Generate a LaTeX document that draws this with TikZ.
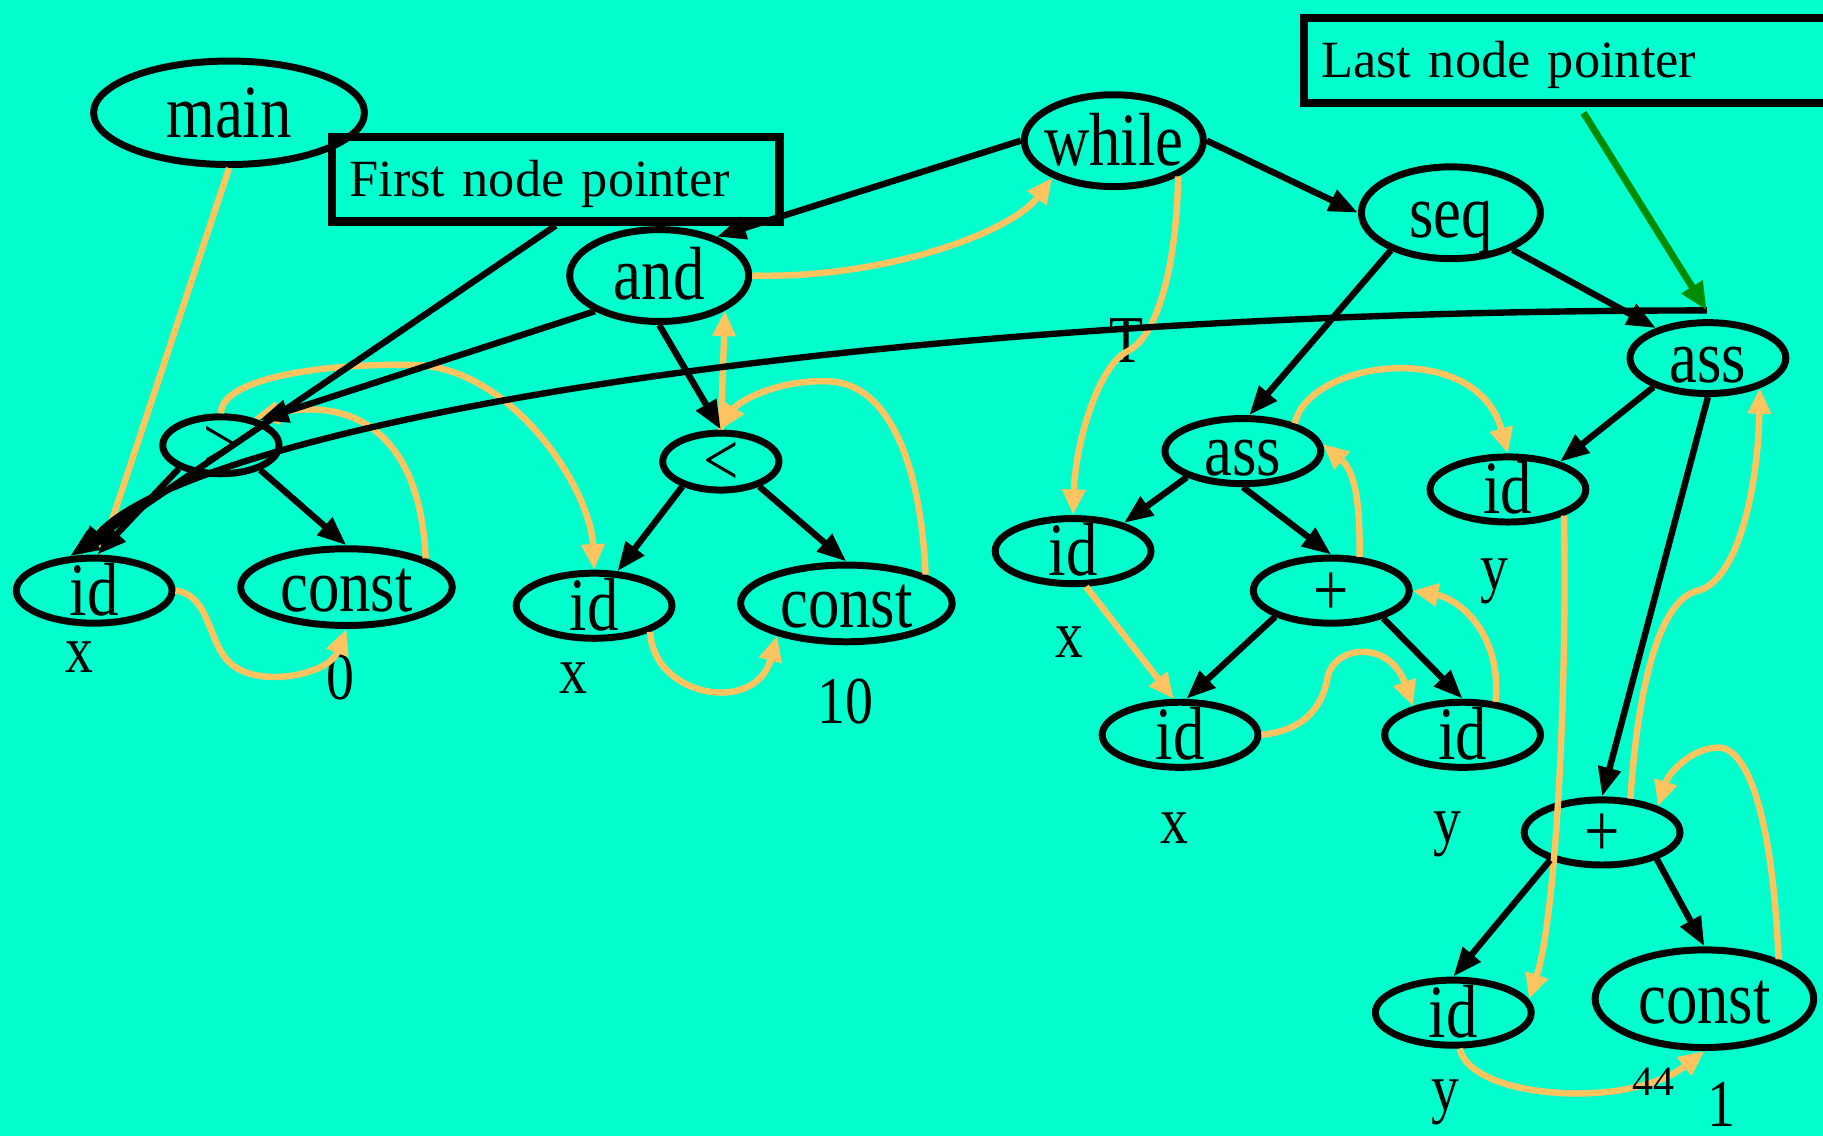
\documentclass[tikz,border=0pt]{standalone}
\usepackage{fontspec}
\setmainfont{Liberation Serif}
\usepackage{graphicx}
\usetikzlibrary{shapes,arrows,positioning,calc,arrows.meta}

\definecolor{bgc}{RGB}{0,255,204}
\definecolor{threadc}{RGB}{255,196,96}
\definecolor{ptrgreen}{RGB}{0,140,0}

\newcommand{\treefont}{\fontsize{54}{60}\selectfont}
\newcommand{\leaffont}{\fontsize{48}{54}\selectfont}
\newcommand{\ptrfont}{\fontsize{45}{50}\selectfont}
\newcommand{\nodetext}[1]{\raisebox{-21pt}[0pt][0pt]{\makebox[0pt]{\scalebox{1}[1.2]{#1}}}}
\newcommand{\leaftext}[1]{\scalebox{1}[1.2]{#1}}

\tikzset{
    tnode/.style={ellipse, draw, line width=6pt, inner sep=0pt, font=\treefont},
    leafn/.style={tnode, minimum width=134pt, minimum height=56pt},
    opn/.style={tnode, minimum width=100pt, minimum height=49pt},
    stmt/.style={tnode, minimum width=154pt, minimum height=79pt},
    cstn/.style={tnode, minimum width=182pt, minimum height=66pt},
    ptrbox/.style={draw, line width=7pt, anchor=north west, align=left, font=\ptrfont,
        inner xsep=15pt, inner ysep=0pt, minimum height=73pt, text height=30pt, text depth=0pt},
    lbl/.style={font=\leaffont, inner sep=0pt},
    tree/.style={line width=5.5pt, -{Triangle[length=25pt,width=19pt]}},
    thr/.style={draw=threadc, line width=5.5pt, -{Triangle[length=22pt,width=19pt]}},
    ptr/.style={draw=ptrgreen, line width=6pt, -{Triangle[length=24pt,width=20pt]}},
}

\begin{document}
\begin{tikzpicture}[x=1pt, y=-1pt]
    \useasboundingbox (0,0) rectangle (1568,977);
    \fill[bgc] (0,0) rectangle (1568,977);

    % tree nodes
    \node[tnode, minimum width=233pt, minimum height=89pt] (main) at (197,97) {\nodetext{main}};
    \node[stmt] (while) at (958,121) {\nodetext{while}};
    \node[stmt] (and) at (567,237) {\nodetext{and}};
    \node[stmt] (seq) at (1248,183) {\nodetext{seq}};
    \node[leafn, minimum height=61pt] (assr) at (1469,308) {\nodetext{ass}};
    \node[opn] (gt) at (190,383) {\nodetext{>}};
    \node[opn] (lt) at (620,397) {\nodetext{<}};
    \node[leafn] (id1) at (81,508) {\nodetext{id}};
    \node[cstn] (c0) at (298,505) {\nodetext{const}};
    \node[leafn] (id2) at (511,521) {\nodetext{id}};
    \node[cstn] (c10) at (728,519) {\nodetext{const}};
    \node[leafn] (assm) at (1069,388) {\nodetext{ass}};
    \node[leafn] (idr) at (1297,421) {\nodetext{id}};
    \node[leafn] (idx) at (923,474) {\nodetext{id}};
    \node[leafn] (plusm) at (1145,508) {\nodetext{+}};
    \node[leafn] (idxb) at (1015,632) {\nodetext{id}};
    \node[leafn] (idyb) at (1258,632) {\nodetext{id}};
    \node[leafn] (plusr) at (1378,716) {\nodetext{+}};
    \node[leafn] (idbr) at (1250,871) {\nodetext{id}};
    \node[cstn, minimum width=188pt, minimum height=84pt] (c1) at (1466,859) {\nodetext{const}};

    % pointer boxes
    \node[ptrbox, text width=355pt] (fnp) at (282,114) {First node pointer};
    \node[ptrbox, text width=470pt] (lnp) at (1118,12) {Last node pointer};

    % values under the leaves
    \node[lbl] (lx1) at (68,565) {\leaftext{x}};
    \node[lbl] (l0) at (293,583) {\leaftext{0}};
    \node[lbl] (lx2) at (493,583) {\leaftext{x}};
    \node[lbl] (l10) at (727,603) {\leaftext{10}};
    \node[lbl] (lx3) at (920,552) {\leaftext{x}};
    \node[lbl] (ly1) at (1285,500) {\leaftext{y}};
    \node[lbl] (lx4) at (1010,712) {\leaftext{x}};
    \node[lbl] (ly2) at (1245,718) {\leaftext{y}};
    \node[lbl] (ly3) at (1243,948) {\leaftext{y}};
    \node[lbl] (l1) at (1481,950) {\leaftext{1}};
    \node[lbl] (lT) at (969,293) {\leaftext{T}};

    % evaluation order
    \draw[thr] (main.south) -- (id1.80);
    \draw[thr] (id1.east) .. controls (182,512) and (178,555) .. (200,572) .. controls (225,592) and (283,580) .. (c0.south);
    \draw[thr] (c0.20) .. controls (362,380) and (310,340) .. (gt.40);
    \draw[thr] (gt.north) .. controls (190,325) and (280,312) .. (357,314) .. controls (440,316) and (508,420) .. (id2.north);
    \draw[thr] (id2.335) .. controls (562,600) and (650,615) .. (c10.205);
    \draw[thr] (c10.20) .. controls (792,400) and (765,330) .. (713,328) .. controls (670,326) and (635,345) .. (lt.north);
    \draw[thr] (lt.north) -- (and.332);
    \draw[thr] (and.east) .. controls (760,240) and (870,200) .. (while.211);
    \draw[thr] (while.331) .. controls (1012,230) and (995,290) .. (970,302) .. controls (945,314) and (925,380) .. (idx.north);
    \draw[thr] (idx.290) -- (idxb.100);
    \draw[thr] (idxb.east) .. controls (1125,628) and (1138,605) .. (1142,582) .. controls (1148,555) and (1195,550) .. (idyb.150);
    \draw[thr] (idyb.45) .. controls (1292,545) and (1255,515) .. (plusm.east);
    \draw[thr] (plusm.50) .. controls (1170,430) and (1165,405) .. (assm.5);
    \draw[thr] (assm.28) .. controls (1125,310) and (1270,290) .. (idr.north);
    \draw[thr] (idr.335) .. controls (1348,600) and (1338,790) .. (idbr.10);
    \draw[thr] (idbr.280) .. controls (1265,945) and (1400,955) .. (c1.south);
    \draw[thr] (c1.28) .. controls (1525,710) and (1505,643) .. (1478,643) .. controls (1455,643) and (1435,665) .. (plusr.25);
    \draw[thr] (plusr.50) .. controls (1408,600) and (1425,515) .. (1461,508) .. controls (1495,498) and (1512,420) .. (assr.330);

    % page number sits on the curve
    \node[font=\fontsize{36}{40}\selectfont, inner sep=0pt] (pg) at (1422,930) {44};

    % tree edges
    \draw[tree] (while.west) -- (and.34);
    \draw[tree] (while.east) -- (seq.west);
    \draw[tree] (seq.212) -- (assm.80);
    \draw[tree] (seq.329) -- (assr.150);
    \draw[tree] (and.209) -- (gt.33);
    \draw[tree] (and.south) -- (lt.north);
    \draw[tree] (gt.209) -- (id1.85);
    \draw[tree] (gt.328) -- (c0.north);
    \draw[tree] (lt.213) -- (id2.56);
    \draw[tree] (lt.327) -- (c10.north);
    \draw[tree] (assm.205) -- (idx.29);
    \draw[tree] (assm.south) -- (plusm.north);
    \draw[tree] (plusm.205) -- (idxb.80);
    \draw[tree] (plusm.332) -- (idyb.north);
    \draw[tree] (assr.208) -- (idr.28);
    \draw[tree] (assr.south) -- (plusr.north);
    \draw[tree] (plusr.208) -- (idbr.north);
    \draw[tree] (plusr.334) -- (c1.north);

    % pointers
    \coordinate (lastend) at (1468,267);
    \coordinate (lnpfoot) at (1362,97);
    \draw[tree] (fnp.south) -- (id1.125);
    \draw[tree] (lastend) .. controls (700,267) and (160,372) .. (id1.112);
    \draw[ptr] (lnpfoot) -- (lastend);
\end{tikzpicture}
\end{document}
